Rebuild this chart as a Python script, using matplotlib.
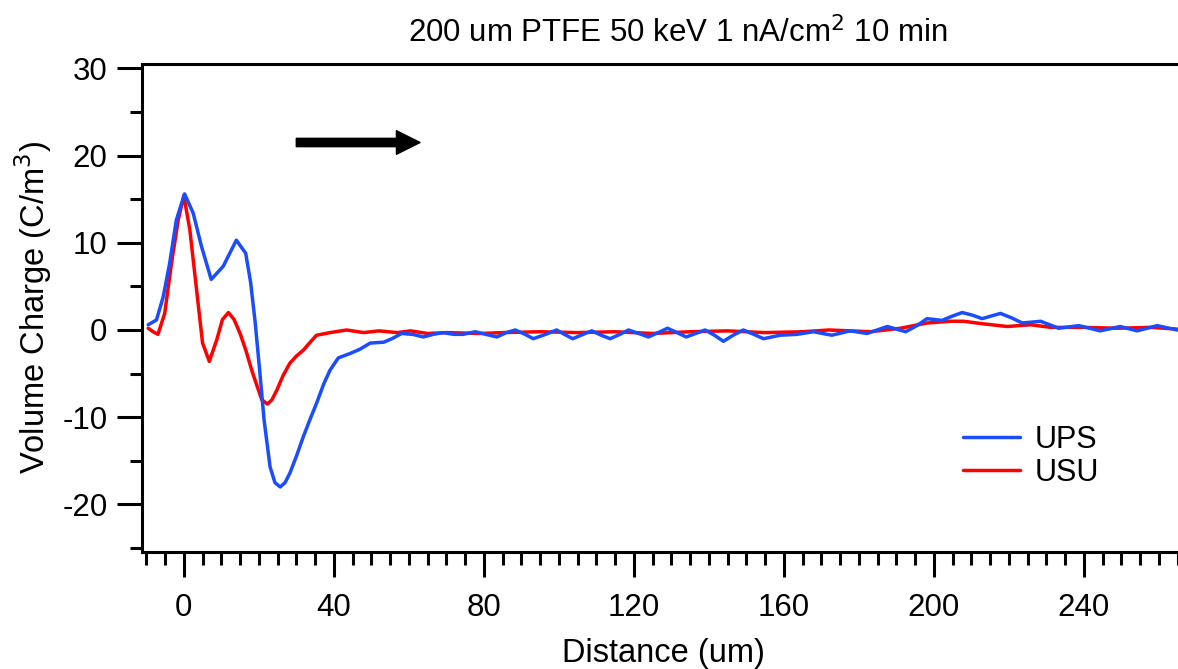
import numpy as np
import matplotlib
matplotlib.use('Agg')
from matplotlib import pyplot as plt
from matplotlib.ticker import MultipleLocator

plt.rcParams['font.family'] = ['Liberation Sans', 'DejaVu Sans']
plt.rcParams['axes.unicode_minus'] = False

### Data
ups_x = [-9.5, -7.3, -5.5, -3.8, -2.0, 0.2, 2.5, 4.7, 7.3, 10.5, 14.0, 16.5, 17.8, 19.0, 20.2,
         21.4, 23.0, 24.3, 25.7, 27.0, 28.3, 30.0, 31.9, 33.7, 35.4, 37.3, 39.0, 41.2, 44.3,
         47.0, 49.7, 53.3, 55.5, 58.1, 61.0, 63.9, 66.5, 69.2, 72.0, 74.5, 77.7, 80.5, 83.5,
         86.0, 88.4, 91.0, 93.2, 96.5, 99.4, 101.5, 103.7, 106.5, 108.8, 111.3, 113.7, 116.3,
         118.6, 121.3, 123.9, 126.5, 129.0, 131.5, 134.0, 136.5, 139.0, 141.5, 143.9, 146.5,
         149.2, 152.0, 154.6, 159.0, 163.5, 167.9, 172.8, 177.7, 182.2, 187.6, 192.5, 195.5,
         198.2, 202.2, 205.0, 207.6, 210.3, 212.9, 215.3, 217.8, 220.7, 223.6, 228.5, 233.3,
         238.7, 244.4, 249.7, 254.2, 259.6, 264.9]
ups_y = [0.6, 1.15, 3.8, 7.6, 12.6, 15.6, 13.4, 9.6, 5.8, 7.3, 10.3, 8.8, 5.5, 1.0, -4.5,
         -10.3, -15.7, -17.5, -18.0, -17.5, -16.4, -14.5, -12.2, -10.2, -8.4, -6.2, -4.6, -3.2, -2.7,
         -2.2, -1.5, -1.4, -1.0, -0.4, -0.5, -0.8, -0.5, -0.3, -0.5, -0.5, -0.2, -0.5, -0.8,
         -0.3, 0.0, -0.5, -1.0, -0.5, 0.0, -0.5, -1.0, -0.5, -0.1, -0.6, -1.0, -0.5,
         0.0, -0.4, -0.8, -0.3, 0.2, -0.3, -0.8, -0.4, 0.0, -0.6, -1.3, -0.6,
         0.0, -0.5, -1.0, -0.6, -0.5, -0.2, -0.6, -0.1, -0.4, 0.4, -0.2, 0.5,
         1.3, 1.1, 1.6, 2.0, 1.7, 1.3, 1.6, 1.9, 1.4, 0.8, 1.0, 0.2,
         0.5, -0.1, 0.4, -0.1, 0.5, 0.0]

usu_x = [-9.5, -8.2, -6.9, -5.1, -3.3, -1.5, 0.0, 1.6, 3.3, 5.0, 6.8, 8.8, 10.3, 11.9, 13.4,
         15.0, 16.6, 18.1, 19.5, 20.8, 22.3, 23.5, 24.8, 26.5, 28.3, 30.0, 31.9, 33.7, 35.4,
         39.0, 43.4, 48.0, 52.0, 56.9, 60.5, 64.9, 70.2, 79.1, 85, 95, 105, 115, 125, 135,
         145, 155, 165, 172, 177.8, 183.1, 191.1, 198.2, 204.5, 208, 213.3, 219.6, 225.8,
         231.2, 240, 248.9, 257.8, 264.9]
usu_y = [0.2, -0.2, -0.5, 1.9, 7.6, 12.6, 15.4, 11.5, 5.0, -1.5, -3.6, -1.1, 1.2, 2.0, 1.2,
         -0.4, -2.4, -4.6, -6.4, -8.0, -8.5, -8.0, -6.9, -5.2, -3.8, -3.0, -2.3, -1.4, -0.6,
         -0.3, 0.0, -0.3, -0.1, -0.3, -0.1, -0.4, -0.3, -0.4, -0.3, -0.2, -0.3, -0.2, -0.4, -0.2,
         -0.1, -0.3, -0.2, 0.0, -0.1, -0.2, 0.2, 0.8, 1.0, 1.0, 0.7, 0.4, 0.6,
         0.3, 0.3, 0.2, 0.3, 0.1]

arrow_start = (30.0, 21.5)
arrow_end = (63.0, 21.5)

W, H = 1178, 669
fig = plt.figure(figsize=(W/100, H/100), dpi=100)
ax = fig.add_axes([142.2/W, (H-551.5)/H, (1185-142.2)/W, (551.5-64)/H])

ax.plot(ups_x, ups_y, color='#1a4dff', lw=2.5, label='UPS', zorder=3,
        solid_joinstyle='round', solid_capstyle='round')
ax.plot(usu_x, usu_y, color='#ff0000', lw=2.5, label='USU', zorder=2,
        solid_joinstyle='round', solid_capstyle='round')

ax.annotate('', xy=arrow_end, xytext=arrow_start,
            arrowprops=dict(width=6, headwidth=17, headlength=17, shrink=0,
                            color='black'))

ax.set_xlim(-11.1, 267)
ax.set_ylim(-25.4, 30.5)
ax.set_xticks(np.arange(0, 241, 40))
ax.set_yticks(np.arange(-20, 31, 10))
ax.xaxis.set_minor_locator(MultipleLocator(5))
ax.yaxis.set_minor_locator(MultipleLocator(5))
ax.tick_params(which='major', direction='out', length=18, width=2.2, labelsize=22.5, pad=7)
ax.tick_params(axis='x', which='major', pad=12)
ax.tick_params(which='minor', direction='out', length=9, width=2.2)
ax.tick_params(top=False, right=False, which='both')
for s in ['left', 'bottom', 'top']:
    ax.spines[s].set_linewidth(2.2)
ax.spines['right'].set_visible(False)

ax.set_xlabel('Distance (um)', fontsize=23.5, labelpad=11)
ax.set_ylabel('Volume Charge (C/m$^3$)', fontsize=23.5, labelpad=6)

fig.text(678/W, 1-33/H, '200 um PTFE 50 keV 1 nA/cm$^2$ 10 min', fontsize=22.5,
         ha='center', va='center')

ax.legend(loc='upper left', bbox_to_anchor=(963/W, 1-425/H), bbox_transform=fig.transFigure,
          frameon=False, fontsize=22, borderpad=0, borderaxespad=0, handlelength=1.85,
          handletextpad=0.5, labelspacing=0.1)

fig.savefig('out.png', dpi=100)
